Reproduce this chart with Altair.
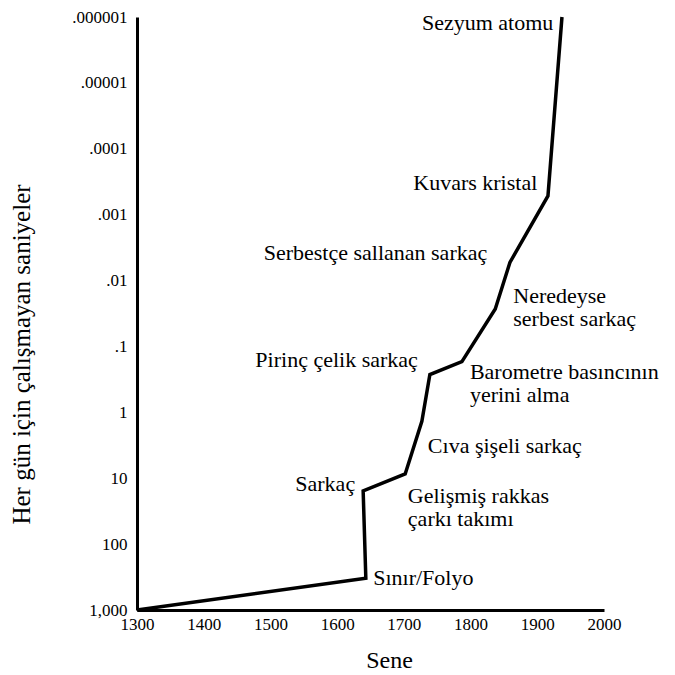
import altair as alt
import pandas as pd

# Main curve: year vs. seconds lost per day
years = [1300, 1643, 1639, 1702, 1727, 1739, 1787, 1837, 1859, 1916, 1937]
seconds = [1000, 330, 15.6, 8.6, 1.37, 0.267, 0.170, 0.027, 0.0053, 0.00052, 0.000001]

x_ticks = [1300, 1400, 1500, 1600, 1700, 1800, 1900, 2000]
y_ticks = [1e-6, 1e-5, 1e-4, 1e-3, 1e-2, 1e-1, 1, 10, 100, 1000]
y_tick_labels = [".000001", ".00001", ".0001", ".001", ".01", ".1", "1", "10", "100", "1,000"]

# Annotations (right-aligned and left-aligned)
right_text = ["Sezyum atomu", "Kuvars kristal", "Serbestçe sallanan sarkaç",
              "Pirinç çelik sarkaç", "Sarkaç"]
right_year = [1924, 1900, 1825, 1721, 1627]
right_value = [1.25e-6, 3.3e-4, 0.00387, 0.159, 12.2]

left_text = ["Neredeyse\nserbest sarkaç", "Barometre basıncının\nyerini alma",
             "Cıva şişeli sarkaç", "Gelişmiş rakkas\nçarkı takımı", "Sınır/Folyo"]
left_year = [1864, 1799, 1736, 1706, 1654]
left_value = [0.0172, 0.241, 3.26, 18.5, 330]

FONT = "Liberation Serif"

line_df = pd.DataFrame({"i": list(range(len(years))), "year": years, "seconds": seconds})
right_df = pd.DataFrame({"label": right_text, "year": right_year, "seconds": right_value})
left_df = pd.DataFrame({"label": left_text, "year": left_year, "seconds": left_value})

label_expr = "[" + ",".join("'" + s + "'" for s in y_tick_labels) + "][round(log(datum.value)/LN10)+6]"

x_enc = alt.X(
    "year:Q",
    scale=alt.Scale(domain=[1300, 2000], nice=False, zero=False),
    axis=alt.Axis(
        values=x_ticks, format="d", title="Sene", ticks=False, grid=False,
        domainWidth=3, domainColor="black", labelFont=FONT, labelFontSize=17,
        labelColor="black", labelPadding=6, labelFlush=False,
        titleFont=FONT, titleFontSize=24, titleFontWeight="normal",
        titleColor="black", titleX=252, titleY=50, titleAlign="center",
        titleBaseline="middle",
    ),
)
y_enc = alt.Y(
    "seconds:Q",
    scale=alt.Scale(type="log", domain=[1e-6, 1000], reverse=True, nice=False),
    axis=alt.Axis(
        values=y_ticks, labelExpr=label_expr, title="Her gün için çalışmayan saniyeler",
        ticks=False, grid=False, domainWidth=3, domainColor="black",
        labelFont=FONT, labelFontSize=17, labelColor="black", labelPadding=10,
        labelOverlap=False,
        titleFont=FONT, titleFontSize=25, titleFontWeight="normal", titleColor="black",
        titleAngle=270, titleX=-116, titleY=337, titleAlign="center", titleBaseline="middle",
    ),
)

line = alt.Chart(line_df).mark_line(color="black", strokeWidth=3.5).encode(
    x=x_enc, y=y_enc, order=alt.Order("i:Q")
)

right_labels = alt.Chart(right_df).mark_text(
    align="right", baseline="middle", font=FONT, fontSize=22,
    color="black", lineBreak="\n", lineHeight=23
).encode(x=x_enc, y=y_enc, text="label:N")

left_labels = alt.Chart(left_df).mark_text(
    align="left", baseline="middle", font=FONT, fontSize=22, color="black",
    lineBreak="\n", lineHeight=23
).encode(x=x_enc, y=y_enc, text="label:N")

chart = alt.layer(line, right_labels, left_labels).properties(
    width=467, height=593,
    autosize=alt.AutoSizeParams(type="none"),
    padding={"left": 129, "top": 9, "right": 63, "bottom": 64},
    background="white",
).configure_view(stroke=None)

chart.save("out.html", embed_options={"renderer": "svg", "actions": False})
